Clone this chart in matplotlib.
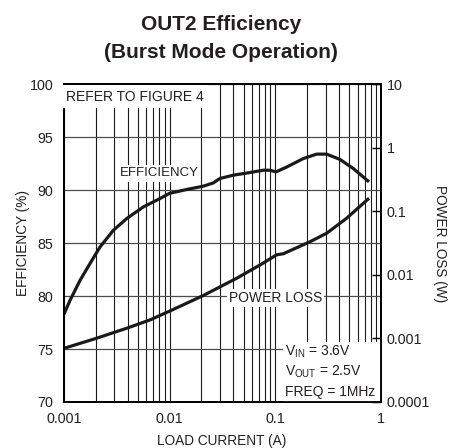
import numpy as np
import matplotlib
matplotlib.use('Agg')
import matplotlib.pyplot as plt
from matplotlib.ticker import FixedLocator, FixedFormatter, NullLocator, NullFormatter
from matplotlib.patches import Rectangle

# efficiency curve (load current A, efficiency %)
eff_current = [0.001, 0.00114, 0.00142, 0.00176, 0.00219, 0.00293, 0.00392, 0.00563,
               0.00809, 0.01, 0.0121, 0.0145, 0.0208, 0.0259, 0.0299, 0.04,
               0.0575, 0.0769, 0.0891, 0.1014, 0.128, 0.184, 0.246, 0.306,
               0.409, 0.547, 0.77]
eff_values = [78.3, 79.6, 81.5, 83.07, 84.64, 86.22, 87.33, 88.43,
              89.22, 89.72, 89.9, 90.08, 90.39, 90.7, 91.12, 91.43,
              91.68, 91.9, 91.9, 91.74, 92.2, 93.0, 93.42, 93.42,
              92.92, 92.06, 90.8]

# power loss curve (load current A, loss W)
loss_current = [0.001, 0.002, 0.00392, 0.00652, 0.01, 0.0208, 0.043, 0.0716,
                0.103, 0.119, 0.213, 0.306, 0.473, 0.77]
loss_values = [0.0007, 0.001, 0.00145, 0.00196, 0.0027, 0.00475, 0.00887, 0.01436,
               0.0208, 0.0216, 0.0334, 0.0454, 0.0782, 0.1614]

x_ticks = [0.001, 0.01, 0.1, 1]
x_tick_labels = ['0.001', '0.01', '0.1', '1']
eff_ticks = [70, 75, 80, 85, 90, 95, 100]
loss_ticks = [0.0001, 0.001, 0.01, 0.1, 1, 10]
loss_tick_labels = ['0.0001', '0.001', '0.01', '0.1', '1', '10']

plt.rcParams['font.family'] = ['Liberation Sans', 'DejaVu Sans']
plt.rcParams['mathtext.fontset'] = 'custom'
plt.rcParams['mathtext.rm'] = 'Liberation Sans'
TXT = '#231f20'

fig = plt.figure(figsize=(4.49, 4.48), dpi=100)
ax = fig.add_axes([0.1425, 0.1027, 0.706, 0.7087])
ax2 = ax.twinx()

ax.set_xscale('log')
ax.set_xlim(0.001, 1)
ax.set_ylim(70, 100)
ax2.set_yscale('log')
ax2.set_ylim(0.0001, 10)

# grid
minor = [m * d for d in (0.001, 0.01, 0.1) for m in range(2, 10)]
ax.xaxis.set_major_locator(FixedLocator(x_ticks))
ax.xaxis.set_major_formatter(FixedFormatter(x_tick_labels))
ax.xaxis.set_minor_locator(FixedLocator(minor))
ax.xaxis.set_minor_formatter(NullFormatter())
ax.yaxis.set_major_locator(FixedLocator(eff_ticks))
ax.grid(True, which='both', axis='x', color='#1a1a1a', linewidth=0.8)
ax.grid(True, which='major', axis='y', color='#4d4d4d', linewidth=0.9)
ax.tick_params(axis='both', which='both', length=0, labelsize=10.3, labelcolor=TXT)
ax.tick_params(axis='y', pad=7.5)
ax.tick_params(axis='x', pad=7)

ax2.yaxis.set_major_locator(FixedLocator(loss_ticks))
ax2.yaxis.set_major_formatter(FixedFormatter(loss_tick_labels))
ax2.yaxis.set_minor_locator(NullLocator())
ax2.tick_params(axis='y', direction='in', length=6.5, width=1, pad=4,
                labelsize=10.3, labelcolor=TXT)

for a in (ax, ax2):
    for s in a.spines.values():
        s.set_linewidth(1.3)
        s.set_color('black')

ax.plot(eff_current, eff_values, color='#1a1a1a', linewidth=2.3,
        solid_capstyle='butt', solid_joinstyle='round')
ax2.plot(loss_current, loss_values, color='#1a1a1a', linewidth=2.3,
         solid_capstyle='butt', solid_joinstyle='round')

box = dict(facecolor='white', edgecolor='none', pad=1.5)
ax2.text(0.0079, 91.6, 'EFFICIENCY', transform=ax.transData, ha='center', va='center',
         fontsize=9.5, bbox=box, color=TXT)
ax2.text(0.101, 79.8, 'POWER LOSS', transform=ax.transData, ha='center', va='center',
         fontsize=10, bbox=box, color=TXT)
ax2.text(0.006, 0.962, 'REFER TO FIGURE 4', transform=ax.transAxes, ha='left', va='center',
         fontsize=10, bbox=dict(facecolor='white', edgecolor='none', pad=3), color=TXT)

ax2.add_patch(Rectangle((0.69, 0.0), 0.31, 0.19, transform=ax.transAxes,
                        facecolor='white', edgecolor='none', zorder=1))
cond = ['V$_{\\mathregular{IN}}$ = 3.6V', 'V$_{\\mathregular{OUT}}$ = 2.5V', 'FREQ = 1MHz']
for i, t in enumerate(cond):
    ax2.text(0.697, 0.158 - i * 0.063, t, transform=ax.transAxes, ha='left', va='center',
             fontsize=10, color=TXT, zorder=3)

ax.set_xlabel('LOAD CURRENT (A)', fontsize=9.8, color=TXT, va='center')
ax.xaxis.set_label_coords(0.499, -0.123)
ax.set_ylabel('EFFICIENCY (%)', fontsize=9.8, color=TXT, va='center')
ax.yaxis.set_label_coords(-0.129, 0.5)
ax2.set_ylabel('POWER LOSS (W)', fontsize=9.8, color=TXT, rotation=270, va='center')
ax2.yaxis.set_label_coords(1.186, 0.5)

fig.text(0.492, 1 - 25 / 448, 'OUT2 Efficiency', ha='center', va='center',
         fontsize=15, fontweight='bold', color=TXT)
fig.text(0.492, 1 - 53 / 448, '(Burst Mode Operation)', ha='center', va='center',
         fontsize=15, fontweight='bold', color=TXT)

fig.savefig('out.png', dpi=100)
